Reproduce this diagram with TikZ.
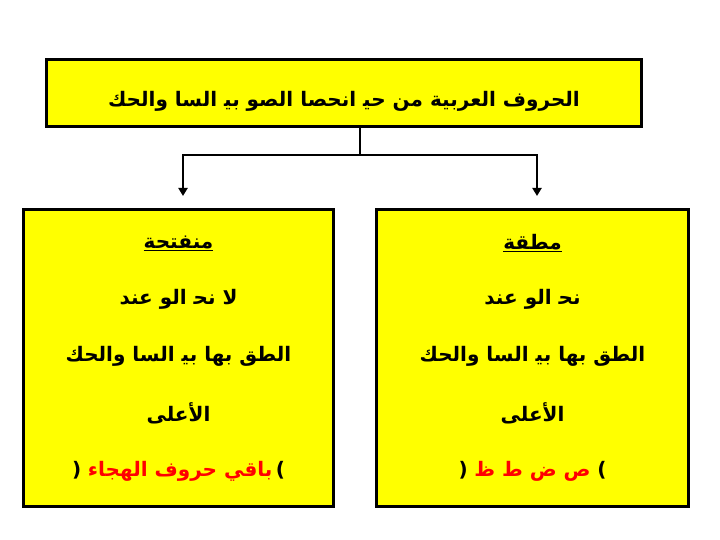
\documentclass[tikz,border=0pt]{standalone}
\usepackage{fontspec}
\usetikzlibrary{arrows.meta}
\newfontfamily\arabicfont[Script=Arabic]{DejaVu Sans}
\TeXXeTstate=1
\newcommand{\arsize}{\arabicfont\bfseries\fontsize{20}{24}\selectfont}
\newcommand{\artext}[1]{{\arsize\beginR #1\endR}}
\definecolor{boxyellow}{RGB}{255,255,0}
\tikzset{
  boxframe/.style={draw=black, line width=3pt, fill=boxyellow, inner sep=0pt},
  link/.style={line width=2pt, -{Triangle[length=8pt,width=9pt]}},
}
\begin{document}
\begin{tikzpicture}[x=1pt,y=-1pt]
        \useasboundingbox (0,0) rectangle (720,540);
        %% Boxes
        \node[boxframe, minimum width=595pt, minimum height=67pt] (top) at (344,93) {};
        \node[boxframe, minimum width=310pt, minimum height=297pt] (left) at (178.5,358) {};
        \node[boxframe, minimum width=312pt, minimum height=297pt] (right) at (532.5,358) {};
        %% Texts
        \node (toptext) at (344,101) {\artext{الحروف العربية من حي^^^^200d انحصا الصو بي^^^^200d السا والحك}};
        \node (lefttitle) at (178.5,243) {\underline{\artext{منفتحة}}};
        \node (leftone)   at (178.5,299) {\artext{لا نح^^^^200d الو عند}};
        \node (lefttwo)   at (178.5,356) {\artext{الطق بها بي^^^^200d السا والحك}};
        \node (leftthree) at (178.5,413) {\artext{الأعلى}};
        \node (leftfour)  at (178.5,471) {{\arsize (}\ \ \textcolor{red}{\artext{باقي حروف الهجاء}}\ {\arsize )}};
        \node (righttitle) at (532.5,243) {\underline{\artext{مطقة}}};
        \node (rightone)   at (532.5,299) {\artext{نح^^^^200d الو عند}};
        \node (righttwo)   at (532.5,356) {\artext{الطق بها بي^^^^200d السا والحك}};
        \node (rightthree) at (532.5,413) {\artext{الأعلى}};
        \node (rightfour)  at (532.5,471) {{\arsize (}\ \ \textcolor{red}{\artext{ص ض ط ظ}}\ \ {\arsize )}};
        %% Connectors
        \coordinate (fork) at (360,155);
        \draw[line width=2pt] (top.south -| fork) -- (fork);
        \draw[link, shorten >=12pt] (fork) -| ([xshift=4.5pt]left.north);
        \draw[link, shorten >=12pt] (fork) -| ([xshift=4.5pt]right.north);
    \end{tikzpicture}
\end{document}
